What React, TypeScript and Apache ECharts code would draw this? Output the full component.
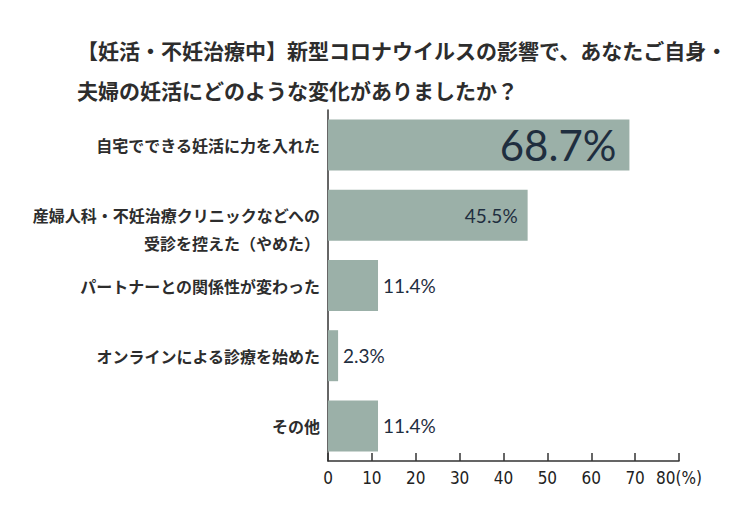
import React, { useEffect, useRef } from "react";
import * as echarts from "echarts";

const titleLines = [
  "【妊活・不妊治療中】新型コロナウイルスの影響で、あなたご自身・",
  "夫婦の妊活にどのような変化がありましたか？",
];
const categories = [
  "自宅でできる妊活に力を入れた",
  "産婦人科・不妊治療クリニックなどへの\n受診を控えた（やめた）",
  "パートナーとの関係性が変わった",
  "オンラインによる診療を始めた",
  "その他",
];
const values = [68.7, 45.5, 11.4, 2.3, 11.4];
const xTicks = [0, 10, 20, 30, 40, 50, 60, 70, 80];

const BAR = "#9bb0a8";
const DARK = "#1f2e3f";
const TEXT = "#2d2d2d";
const CJK = "'Noto Sans CJK JP', 'Noto Sans', sans-serif";

export default function App() {
  const ref = useRef<HTMLDivElement>(null);
  useEffect(() => {
    if (!ref.current) return;
    const chart = echarts.init(ref.current, undefined, { renderer: "svg" });
    const fmt = (p: any) => `${p.value}%`;
    const data = values.map((v) => {
      let label: any;
      if (v > 60) {
        label = { show: true, position: "insideRight", offset: [-8, 0], fontSize: 42, fontFamily: "Lato, sans-serif", color: DARK, formatter: fmt };
      } else if (v > 20) {
        label = { show: true, position: "insideRight", offset: [-5, 0], fontSize: 19, fontFamily: "Lato, sans-serif", color: DARK, formatter: fmt };
      } else {
        label = { show: true, position: "right", distance: 5, fontSize: 19, fontFamily: "Lato, sans-serif", color: DARK, formatter: fmt };
      }
      return { value: v, label };
    });
    chart.setOption({
      animation: false,
      backgroundColor: "#ffffff",
      title: {
        text: titleLines.join("\n"),
        left: 72,
        top: 25,
        textStyle: { fontSize: 21, fontWeight: "bold", color: TEXT, fontFamily: CJK, lineHeight: 40 },
      },
      grid: { left: 328, right: 63, top: 110, bottom: 51, containLabel: false },
      xAxis: {
        type: "value",
        min: 0,
        max: 80,
        interval: 10,
        axisLine: { show: true, lineStyle: { color: "#333", width: 1.5 } },
        axisTick: { show: true, inside: true, length: 8, lineStyle: { color: "#333", width: 1.5 } },
        splitLine: { show: false },
        axisLabel: {
          color: "#222",
          fontSize: 17,
          fontFamily: "'DejaVu Sans Condensed', 'Liberation Sans Narrow', sans-serif",
          margin: 8,
          formatter: (v: number) => (v === xTicks[xTicks.length - 1] ? `${v}(%)` : `${v}`),
        },
      },
      yAxis: {
        type: "category",
        data: categories,
        inverse: true,
        axisLine: { show: true, lineStyle: { color: "#333", width: 1.5 } },
        axisTick: { show: false },
        axisLabel: {
          color: TEXT,
          fontSize: 16,
          fontWeight: "bold",
          fontFamily: CJK,
          lineHeight: 28,
          margin: 8,
          formatter: (s: string) => (s.includes("\n") ? "\n" + s : s),
        },
      },
      series: [
        {
          type: "bar",
          data,
          barWidth: 51,
          itemStyle: { color: BAR },
        },
      ],
    });
    return () => chart.dispose();
  }, []);
  return (
    <div
      ref={ref}
      style={{ position: "absolute", left: 0, top: 0, width: 742, height: 512, background: "#fff" }}
    />
  );
}
